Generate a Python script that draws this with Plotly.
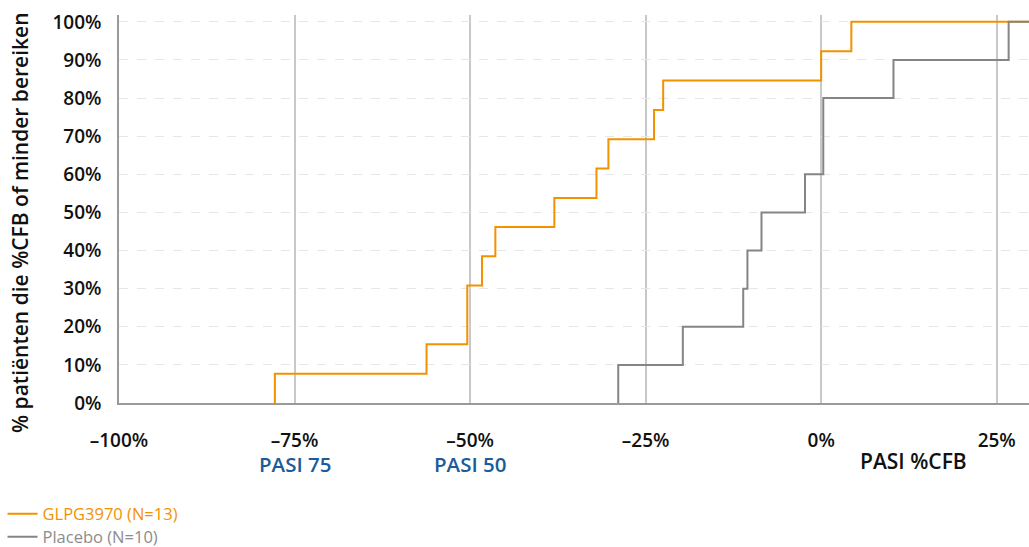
import plotly.graph_objects as go

# Data (PASI %CFB vs cumulative % of patients)
glpg_x = [-77.8, -56.2, -50.4, -48.3, -46.4, -38.0, -32.0, -30.3, -23.8, -22.5, 0.0, 4.3]
glpg_y = [7.7, 15.4, 30.8, 38.5, 46.2, 53.8, 61.5, 69.2, 76.9, 84.6, 92.3, 100.0]
placebo_x = [-28.9, -19.7, -11.1, -10.5, -8.5, -2.3, 0.3, 10.3, 26.7]
placebo_y = [10.0, 20.0, 30.0, 40.0, 50.0, 60.0, 80.0, 90.0, 100.0]

x_ticks = [-100, -75, -50, -25, 0, 25]
x_tick_text = ["–100%", "–75%", "–50%", "–25%", "0%", "25%"]
y_ticks = [0, 10, 20, 30, 40, 50, 60, 70, 80, 90, 100]
y_tick_text = [f"{v}%" for v in y_ticks]

X_MAX = 29.6
ORANGE = "#F39200"
GRAY = "#858585"
BLUE = "#1A5B99"
FONT = "Open Sans"

fig = go.Figure()
fig.add_trace(go.Scatter(
    x=[glpg_x[0]] + glpg_x + [X_MAX],
    y=[0] + glpg_y + [glpg_y[-1]],
    mode="lines", line=dict(color=ORANGE, width=2, shape="hv"),
    name=f"<span style='color:{ORANGE}'>GLPG3970 (N=13)</span>",
    legend="legend",
))
fig.add_trace(go.Scatter(
    x=[placebo_x[0]] + placebo_x + [X_MAX],
    y=[0] + placebo_y + [placebo_y[-1]],
    mode="lines", line=dict(color=GRAY, width=2, shape="hv"),
    name="<span style='color:#8C8C8C'>Placebo (N=10)</span>",
    legend="legend2",
))

legend_common = dict(x=-0.128, xref="paper", yref="container",
                     xanchor="left", yanchor="middle",
                     font=dict(size=16.5, family=FONT),
                     itemwidth=30, bgcolor="rgba(0,0,0,0)")

fig.update_layout(
    width=1029, height=547,
    margin=dict(l=119, r=0, t=15, b=144, autoexpand=False),
    paper_bgcolor="white", plot_bgcolor="white",
    font=dict(family=FONT, color="#111111"),
    showlegend=True,
    legend=dict(y=(547 - 514) / 547, **legend_common),
    legend2=dict(y=(547 - 537) / 547, **legend_common),
    xaxis=dict(range=[-100, X_MAX], tickvals=x_ticks, ticktext=x_tick_text,
               showgrid=True, gridcolor="#C8C8C8", gridwidth=1.5,
               showline=True, linecolor="#9A9A9A", linewidth=1.5,
               zeroline=False, ticks="outside", ticklen=19, tickcolor="rgba(0,0,0,0)",
               tickfont=dict(size=19, family=FONT, weight=600, color="#111111"),
               fixedrange=True),
    yaxis=dict(range=[0, 101.8], tickvals=y_ticks, ticktext=y_tick_text,
               showgrid=True, gridcolor="#E6E6E6", gridwidth=1.2, griddash="dash",
               showline=True, linecolor="#9A9A9A", linewidth=1.5,
               zeroline=False, ticks="outside", ticklen=12, tickcolor="rgba(0,0,0,0)",
               tickfont=dict(size=19, family=FONT, weight=600, color="#111111"),
               fixedrange=True),
    annotations=[
        dict(text="% patiënten die %CFB of minder bereiken", textangle=-90,
             xref="paper", yref="paper", x=-0.1088, y=0.4665,
             xanchor="center", yanchor="middle", showarrow=False,
             font=dict(size=21, family=FONT, weight=600, color="#111111")),
        dict(text="PASI 75", xref="x", yref="paper", x=-75, y=-0.156,
             xanchor="center", yanchor="middle", showarrow=False,
             font=dict(size=20.5, family=FONT, weight=600, color=BLUE)),
        dict(text="PASI 50", xref="x", yref="paper", x=-50, y=-0.156,
             xanchor="center", yanchor="middle", showarrow=False,
             font=dict(size=20.5, family=FONT, weight=600, color=BLUE)),
        dict(text="PASI %CFB", xref="x", yref="paper", x=13.2, y=-0.15,
             xanchor="center", yanchor="middle", showarrow=False,
             font=dict(size=21, family=FONT, weight=600, color="#111111")),
    ],
)

fig.write_html("out.html")
